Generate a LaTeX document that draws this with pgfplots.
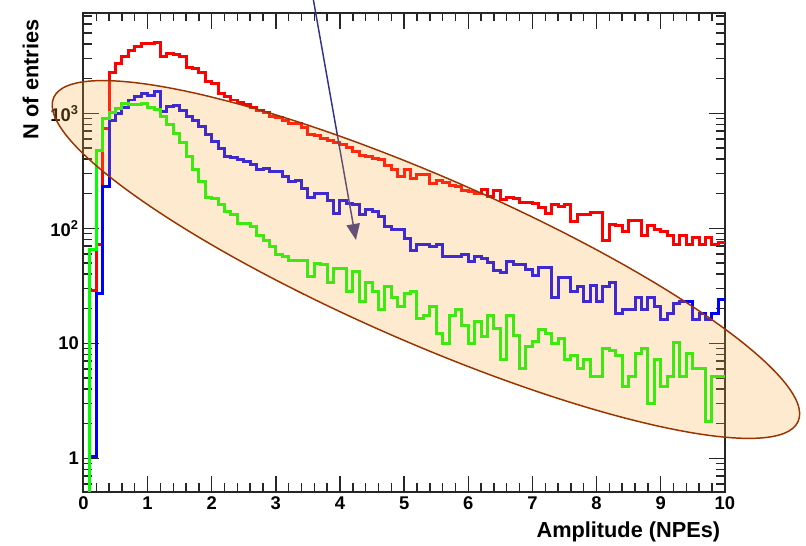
\documentclass[border=0pt]{standalone}
\usepackage{pgfplots}
\pgfplotsset{compat=1.18}
\usepackage{fontspec}
\setmainfont{Liberation Sans}
\usetikzlibrary{arrows.meta}
\definecolor{ellfill}{RGB}{250,170,60}
\definecolor{elldraw}{RGB}{153,51,0}
\definecolor{arrowc}{RGB}{50,50,140}
\definecolor{hred}{RGB}{255,0,0}
\definecolor{hblue}{RGB}{0,0,255}
\definecolor{hgreen}{RGB}{0,255,0}
\begin{document}
\begin{tikzpicture}
\begin{axis}[
  scale only axis, width=481.1pt, height=359.25pt,
  ymode=log, xmin=0, xmax=10, ymin=0.513, ymax=7500,
  axis line style={line width=1.5pt, black!85},
  xtick={0,1,2,3,4,5,6,7,8,9,10},
  xticklabels={0,1,2,3,4,5,6,7,8,9,10},
  minor x tick num=4,
  ytick={1,10,100,1000},
  yticklabels={1,10,10\textsuperscript{2},10\textsuperscript{3}},
  minor ytick={0.6,0.7,0.8,0.9,2,3,4,5,6,7,8,9,20,30,40,50,60,70,80,90,200,300,400,500,600,700,800,900,2000,3000,4000,5000,6000,7000},
  major tick length=12pt, minor tick length=6.5pt,
  tick style={line width=1.1pt, black!85},
  ticklabel style={font=\fontsize{13.8pt}{16pt}\selectfont\bfseries},
  xlabel={Amplitude (NPEs)},
  xlabel style={at={(rel axis cs:1,0)}, anchor=base east, yshift=-34.7pt, font=\fontsize{16.3pt}{18pt}\selectfont\bfseries},
  ylabel={N of entries},
  ylabel style={at={([xshift=-33.9pt,yshift=-1.7pt]rel axis cs:0,1)}, anchor=base east, font=\fontsize{16.3pt}{18pt}\selectfont\bfseries},
]
\addplot[const plot, draw=hred, line width=2.25pt] coordinates {
(0.0,0.1)(0.1,29)(0.2,72)(0.3,741)(0.4,2254)(0.5,2722)(0.6,3105)(0.7,3500)(0.8,3800)(0.9,4010)
(1.0,4050)(1.1,4150)(1.2,3105)(1.3,3300)(1.4,3250)(1.5,3150)(1.6,2510)(1.7,2430)(1.8,2250)(1.9,1883)
(2.0,1800)(2.1,1493)(2.2,1394)(2.3,1306)(2.4,1238)(2.5,1182)(2.6,1127)(2.7,1069)(2.8,1014)(2.9,948)
(3.0,912)(3.1,863)(3.2,819)(3.3,819)(3.4,755)(3.5,661)(3.6,647)(3.7,605)(3.8,586)(3.9,556)
(4.0,531)(4.1,506)(4.2,464)(4.3,434)(4.4,420)(4.5,406)(4.6,393)(4.7,355)(4.8,322)(4.9,285)
(5.0,326)(5.1,272)(5.2,291)(5.3,291)(5.4,246)(5.5,260)(5.6,249)(5.7,238)(5.8,230)(5.9,215)
(6.0,208)(6.1,202)(6.2,218)(6.3,191)(6.4,212)(6.5,179)(6.6,186)(6.7,182)(6.8,167)(6.9,167)
(7.0,165)(7.1,152)(7.2,135)(7.3,160)(7.4,154)(7.5,160)(7.6,114)(7.7,133)(7.8,133)(7.9,137)
(8.0,137)(8.1,79)(8.2,107)(8.3,105)(8.4,93)(8.5,117)(8.6,118)(8.7,87)(8.8,105)(8.9,98)
(9.0,93)(9.1,87)(9.2,73)(9.3,87)(9.4,72)(9.5,84)(9.6,72)(9.7,84)(9.8,73)(9.9,75)(10.0,75)
};
\addplot[const plot, draw=hblue, line width=2.25pt] coordinates {
(0.0,0.1)(0.1,1.03)(0.2,27)(0.3,230)(0.4,875)(0.5,1000)(0.6,1127)(0.7,1306)(0.8,1396)(0.9,1493)
(1.0,1440)(1.1,1545)(1.2,1033)(1.3,1143)(1.4,1181)(1.5,1069)(1.6,948)(1.7,875)(1.8,766)(1.9,661)
(2.0,567)(2.1,496)(2.2,425)(2.3,414)(2.4,393)(2.5,380)(2.6,356)(2.7,322)(2.8,333)(2.9,311)
(3.0,311)(3.1,281)(3.2,254)(3.3,260)(3.4,222)(3.5,186)(3.6,199)(3.7,199)(3.8,176)(3.9,135)
(4.0,176)(4.1,165)(4.2,160)(4.3,131)(4.4,146)(4.5,140)(4.6,128)(4.7,103)(4.8,98)(4.9,98)
(5.0,82)(5.1,64)(5.2,73)(5.3,73)(5.4,69)(5.5,72)(5.6,57)(5.7,57)(5.8,57)(5.9,59)
(6.0,51)(6.1,57)(6.2,55)(6.3,50)(6.4,43)(6.5,41)(6.6,51)(6.7,48)(6.8,48)(6.9,44)
(7.0,39)(7.1,46)(7.2,46)(7.3,25)(7.4,37)(7.5,37)(7.6,28)(7.7,31)(7.8,23)(7.9,32)
(8.0,23)(8.1,31)(8.2,34)(8.3,18)(8.4,19.5)(8.5,19.5)(8.6,25)(8.7,19.5)(8.8,25)(8.9,21)
(9.0,16)(9.1,18)(9.2,22)(9.3,23)(9.4,23)(9.5,16)(9.6,18)(9.7,16)(9.8,18)(9.9,24)(10.0,24)
};
\addplot[const plot, draw=hgreen, line width=2.25pt] coordinates {
(0.0,0.1)(0.1,66)(0.2,473)(0.3,905)(0.4,1014)(0.5,1105)(0.6,1222)(0.7,1190)(0.8,1190)(0.9,1210)
(1.0,1130)(1.1,1080)(1.2,935)(1.3,794)(1.4,669)(1.5,556)(1.6,420)(1.7,322)(1.8,255)(1.9,185)
(2.0,180)(2.1,160)(2.2,140)(2.3,133)(2.4,110)(2.5,110)(2.6,103)(2.7,87)(2.8,79)(2.9,69)
(3.0,59)(3.1,57)(3.2,53)(3.3,53)(3.4,53)(3.5,38)(3.6,49)(3.7,48)(3.8,34)(3.9,45)
(4.0,45)(4.1,28)(4.2,42)(4.3,23)(4.4,34)(4.5,28)(4.6,19.5)(4.7,31)(4.8,25)(4.9,21)
(5.0,27)(5.1,28)(5.2,16.5)(5.3,17.6)(5.4,21)(5.5,12.2)(5.6,10)(5.7,17.6)(5.8,19.5)(5.9,14.4)
(6.0,10)(6.1,15.4)(6.2,11.4)(6.3,17.6)(6.4,13.5)(6.5,7.2)(6.6,17.6)(6.7,11.8)(6.8,6.1)(6.9,9.3)
(7.0,10.3)(7.1,13.1)(7.2,12.2)(7.3,10)(7.4,11.0)(7.5,7.2)(7.6,7.9)(7.7,6.1)(7.8,7.2)(7.9,5.1)
(8.0,5.1)(8.1,9.0)(8.2,8.7)(8.3,7.9)(8.4,4.2)(8.5,5.1)(8.6,8.2)(8.7,9.0)(8.8,3.0)(8.9,7.2)
(9.0,4.2)(9.1,5.1)(9.2,10.1)(9.3,5.1)(9.4,8.1)(9.5,6.1)(9.6,6.1)(9.7,2.1)(9.8,5.1)(9.9,5.1)(10.0,5.1)
};
\end{axis}
\draw[arrowc, line width=1.1pt, -{Triangle[length=12pt,width=10pt]}] (172.1pt,371pt) -- (204.4pt,188.8pt);
\draw[elldraw, line width=1.1pt, fill=ellfill, fill opacity=0.25, rotate around={-23.5:(256.9pt,174.15pt)}] (256.9pt,174.15pt) ellipse (304.5pt and 62.25pt);
\pgfresetboundingbox
\path[use as bounding box] (-62.6pt,-40.7pt) rectangle (542pt,368.8pt);
\end{tikzpicture}
\end{document}
